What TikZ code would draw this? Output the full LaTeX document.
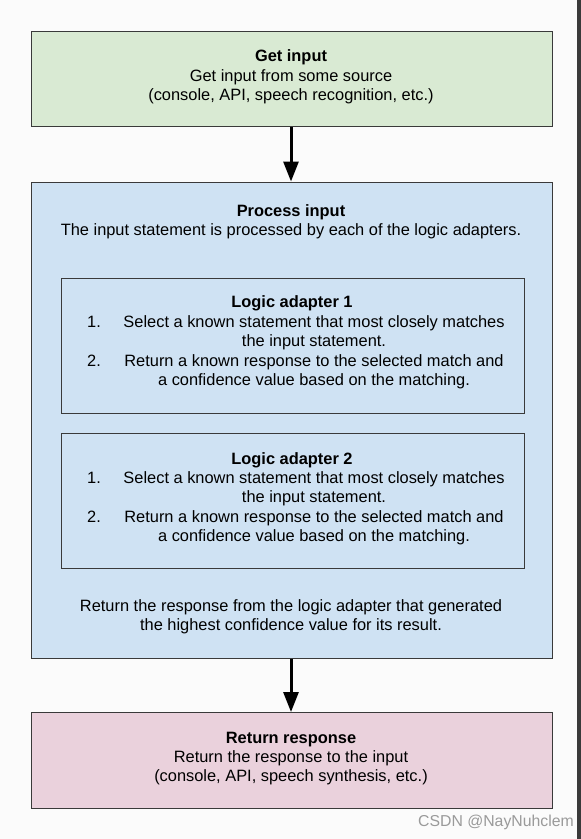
\documentclass[tikz,border=0pt]{standalone}
\usepackage{fontspec}
\setmainfont{Liberation Sans}
\usetikzlibrary{arrows.meta}
\definecolor{bgc}{HTML}{FBFBFB}
\definecolor{greenc}{HTML}{D9EAD3}
\definecolor{bluec}{HTML}{CFE2F3}
\definecolor{pinkc}{HTML}{EAD1DC}
\definecolor{edgec}{HTML}{3A3A3A}
\definecolor{wmc}{HTML}{9A9A9A}
\tikzset{
  box/.style={draw=edgec, line width=1.1bp, rectangle, inner sep=0pt},
  txt/.style={inner sep=0pt, align=center, font=\fontsize{16.4bp}{19.4bp}\selectfont, text=black},
  numtxt/.style={inner sep=0pt, anchor=west, font=\fontsize{16.4bp}{19.4bp}\selectfont},
  itemtxt/.style={inner sep=0pt, align=center, font=\fontsize{16.4bp}{19.4bp}\selectfont},
  flow/.style={line width=3bp, -{Triangle[width=15bp,length=20bp]}, black}
}
\begin{document}
\begin{tikzpicture}[x=1bp,y=-1bp]
\fill[bgc] (0,0) rectangle (581,839);
\useasboundingbox (0,0) rectangle (581,839);
\fill[edgec] (577,0) rectangle (581,839);

% boxes
\node[box, fill=greenc, minimum width=521bp, minimum height=95bp, anchor=north west] (get) at (30.5,31) {};
\node[box, fill=bluec, minimum width=521bp, minimum height=476bp, anchor=north west] (proc) at (30.5,181.5) {};
\node[box, fill=bluec, minimum width=463bp, minimum height=135bp, anchor=north west] (la1) at (60.5,277.5) {};
\node[box, fill=bluec, minimum width=463bp, minimum height=135bp, anchor=north west] (la2) at (60.5,432.5) {};
\node[box, fill=pinkc, minimum width=521bp, minimum height=96bp, anchor=north west] (ret) at (30.5,712) {};

% texts
\node[txt] (gett) at (291,77) {\textbf{Get input}\\Get input from some source\\(console, API, speech recognition, etc.)};
\node[txt] (proct) at (291,222) {\textbf{Process input}\\The input statement is processed by each of the logic adapters.};

\node[txt] (la1t) at (292,303) {\textbf{Logic adapter 1}};
\node[numtxt] (la1n1) at (87,321.5) {1.};
\node[itemtxt] (la1i1) at (314,332.5) {Select a known statement that most closely matches\\the input statement.};
\node[numtxt] (la1n2) at (87,360.5) {2.};
\node[itemtxt] (la1i2) at (314,371.5) {Return a known response to the selected match and\\a confidence value based on the matching.};

\node[txt] (la2t) at (292,460) {\textbf{Logic adapter 2}};
\node[numtxt] (la2n1) at (87,477.5) {1.};
\node[itemtxt] (la2i1) at (314,488.5) {Select a known statement that most closely matches\\the input statement.};
\node[numtxt] (la2n2) at (87,516.5) {2.};
\node[itemtxt] (la2i2) at (314,527.5) {Return a known response to the selected match and\\a confidence value based on the matching.};

\node[txt] (fin) at (291,617) {Return the response from the logic adapter that generated\\the highest confidence value for its result.};

\node[txt] (rett) at (291,758.5) {\textbf{Return response}\\Return the response to the input\\(console, API, speech synthesis, etc.)};

\node[inner sep=0pt, anchor=east, text=wmc, font=\fontsize{15.8bp}{17bp}\selectfont] (wm) at (574,822) {CSDN @NayNuhclem};

% arrows
\draw[flow] (get.south -| 291,0) -- (proc.north -| 291,0);
\draw[flow] (proc.south -| 291,0) -- (ret.north -| 291,0);
\end{tikzpicture}
\end{document}
